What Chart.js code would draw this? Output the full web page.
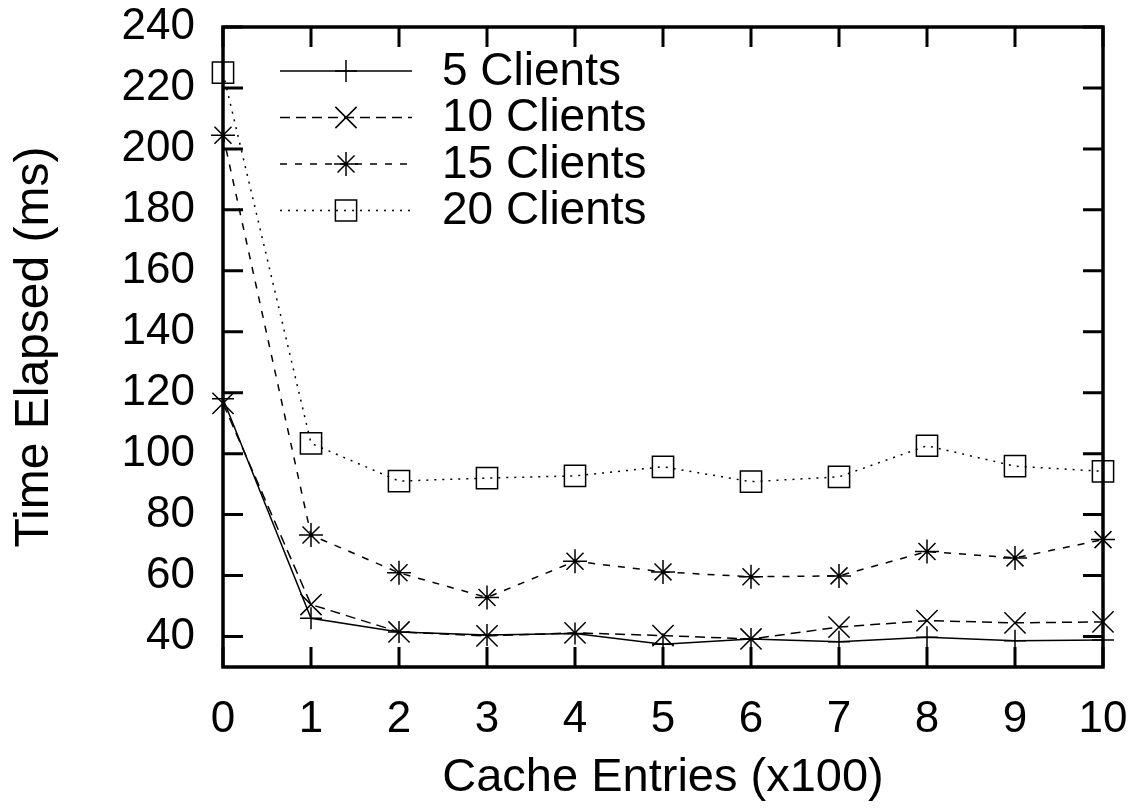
<!DOCTYPE html>
<html>
<head>
<meta charset="utf-8">
<script src="https://cdn.jsdelivr.net/npm/chart.js@4.4.0/dist/chart.umd.min.js"></script>
<style>
  html, body { margin: 0; padding: 0; background: #fff; }
  #wrap { width: 1140px; height: 810px; }
</style>
</head>
<body>
<div id="wrap"><canvas id="cacheChart" width="1140" height="810"></canvas></div>
<script>
// Cache entries (x100)
const cacheEntries = [0, 1, 2, 3, 4, 5, 6, 7, 8, 9, 10];
// Time elapsed (ms) per client count
const clients5 = [118, 46, 41.5, 40.5, 41, 37.5, 39.2, 38.3, 39.8, 38.6, 38.9];
const clients10 = [116.5, 50.5, 41.5, 40.2, 41.2, 40.3, 39.2, 43.1, 45.2, 44.5, 44.8];
const clients15 = [204.5, 73.3, 60.9, 52.8, 64.7, 61.2, 59.6, 59.9, 67.9, 65.8, 71.8];
const clients20 = [225, 103.4, 91, 92, 92.7, 95.7, 90.8, 92.4, 102.6, 95.9, 94.2];
const seriesLabels = ['5 Clients', '10 Clients', '15 Clients', '20 Clients'];
const yTickValues = [40, 60, 80, 100, 120, 140, 160, 180, 200, 220, 240];

const FONT = '"Liberation Sans", Arial, Helvetica, sans-serif';

function toPoints(values) {
    return values.map((v, i) => ({ x: cacheEntries[i], y: v }));
}

function makeSeries(label, values, style, radius, dash) {
    return {
        label: label,
        data: toPoints(values),
        borderColor: '#000',
        backgroundColor: 'rgba(0,0,0,0)',
        borderWidth: 1.5,
        borderDash: dash,
        tension: 0,
        fill: false,
        pointStyle: style,
        pointRadius: radius,
        pointHoverRadius: radius,
        pointBorderColor: '#000',
        pointBackgroundColor: 'rgba(0,0,0,0)',
        pointBorderWidth: 1.5,
        clip: false
    };
}

// frame plus inward ticks on all four sides (gnuplot style)
const framePlugin = {
    id: 'frame',
    afterDatasetsDraw(chart) {
        const { ctx, chartArea: a, scales } = chart;
        const len = 20;
        ctx.save();
        ctx.strokeStyle = '#000';
        ctx.lineWidth = 3;
        scales.x.ticks.forEach((t, i) => {
            const px = scales.x.getPixelForTick(i);
            ctx.beginPath();
            ctx.moveTo(px, a.bottom); ctx.lineTo(px, a.bottom - len);
            ctx.moveTo(px, a.top); ctx.lineTo(px, a.top + len);
            ctx.stroke();
        });
        scales.y.ticks.forEach((t, i) => {
            const py = scales.y.getPixelForTick(i);
            ctx.beginPath();
            ctx.moveTo(a.left, py); ctx.lineTo(a.left + len, py);
            ctx.moveTo(a.right, py); ctx.lineTo(a.right - len, py);
            ctx.stroke();
        });
        ctx.lineWidth = 3.5;
        ctx.strokeRect(a.left, a.top, a.right - a.left, a.bottom - a.top);
        ctx.restore();
    }
};

// gnuplot-like key: line sample with marker in the middle, label to the right
const keyPlugin = {
    id: 'key',
    afterDatasetsDraw(chart) {
        const { ctx, chartArea: a } = chart;
        ctx.save();
        chart.data.datasets.forEach((ds, i) => {
            const y = a.top + 44 + i * 46.5;
            const x0 = a.left + 57, x1 = a.left + 189;
            ctx.strokeStyle = '#000';
            ctx.lineWidth = ds.borderWidth;
            ctx.setLineDash(ds.borderDash || []);
            ctx.beginPath();
            ctx.moveTo(x0, y); ctx.lineTo(x1, y);
            ctx.stroke();
            ctx.setLineDash([]);
            ctx.fillStyle = 'rgba(0,0,0,0)';
            Chart.helpers.drawPoint(ctx, {
                pointStyle: ds.pointStyle,
                radius: ds.pointRadius,
                borderWidth: ds.pointBorderWidth,
                rotation: 0
            }, (x0 + x1) / 2, y);
            ctx.fillStyle = '#000';
            ctx.font = '46px ' + FONT;
            ctx.textAlign = 'left';
            ctx.textBaseline = 'middle';
            ctx.fillText(ds.label, a.left + 219, y + 1);
        });
        ctx.restore();
    }
};

const ctx = document.getElementById('cacheChart').getContext('2d');
new Chart(ctx, {
    type: 'line',
    data: {
        datasets: [
            makeSeries(seriesLabels[0], clients5, 'cross', 11, []),
            makeSeries(seriesLabels[1], clients10, 'crossRot', 15, [10, 6]),
            makeSeries(seriesLabels[2], clients15, 'star', 12, [7, 8]),
            makeSeries(seriesLabels[3], clients20, 'rect', 15, [2, 6])
        ]
    },
    options: {
        responsive: false,
        animation: false,
        layout: { padding: { top: 27, right: 37, left: 0, bottom: 0 } },
        plugins: {
            legend: { display: false },
            tooltip: { enabled: false }
        },
        scales: {
            x: {
                type: 'linear',
                min: 0,
                max: 10,
                ticks: {
                    stepSize: 1,
                    color: '#000',
                    font: { family: FONT, size: 44 },
                    padding: 26,
                    maxRotation: 0
                },
                grid: { display: false, drawTicks: false },
                border: { display: false },
                title: {
                    display: true,
                    text: 'Cache Entries (x100)',
                    color: '#000',
                    font: { family: FONT, size: 47 },
                    padding: { top: 15 }
                },
                afterFit(scale) {
                    scale.height = 143;
                    scale.paddingLeft = 0;
                    scale.paddingRight = 0;
                }
            },
            y: {
                type: 'linear',
                min: 30,
                max: 240,
                ticks: {
                    stepSize: 20,
                    color: '#000',
                    font: { family: FONT, size: 44 },
                    padding: 28
                },
                afterBuildTicks(scale) {
                    scale.ticks = yTickValues.map(v => ({ value: v }));
                },
                grid: { display: false, drawTicks: false },
                border: { display: false },
                title: {
                    display: true,
                    text: 'Time Elapsed (ms)',
                    color: '#000',
                    font: { family: FONT, size: 48 },
                    padding: { top: 6, bottom: 0 }
                },
                afterFit(scale) {
                    scale.width = 223;
                    scale.paddingTop = 0;
                    scale.paddingBottom = 0;
                }
            }
        }
    },
    plugins: [framePlugin, keyPlugin]
});
</script>
</body>
</html>
